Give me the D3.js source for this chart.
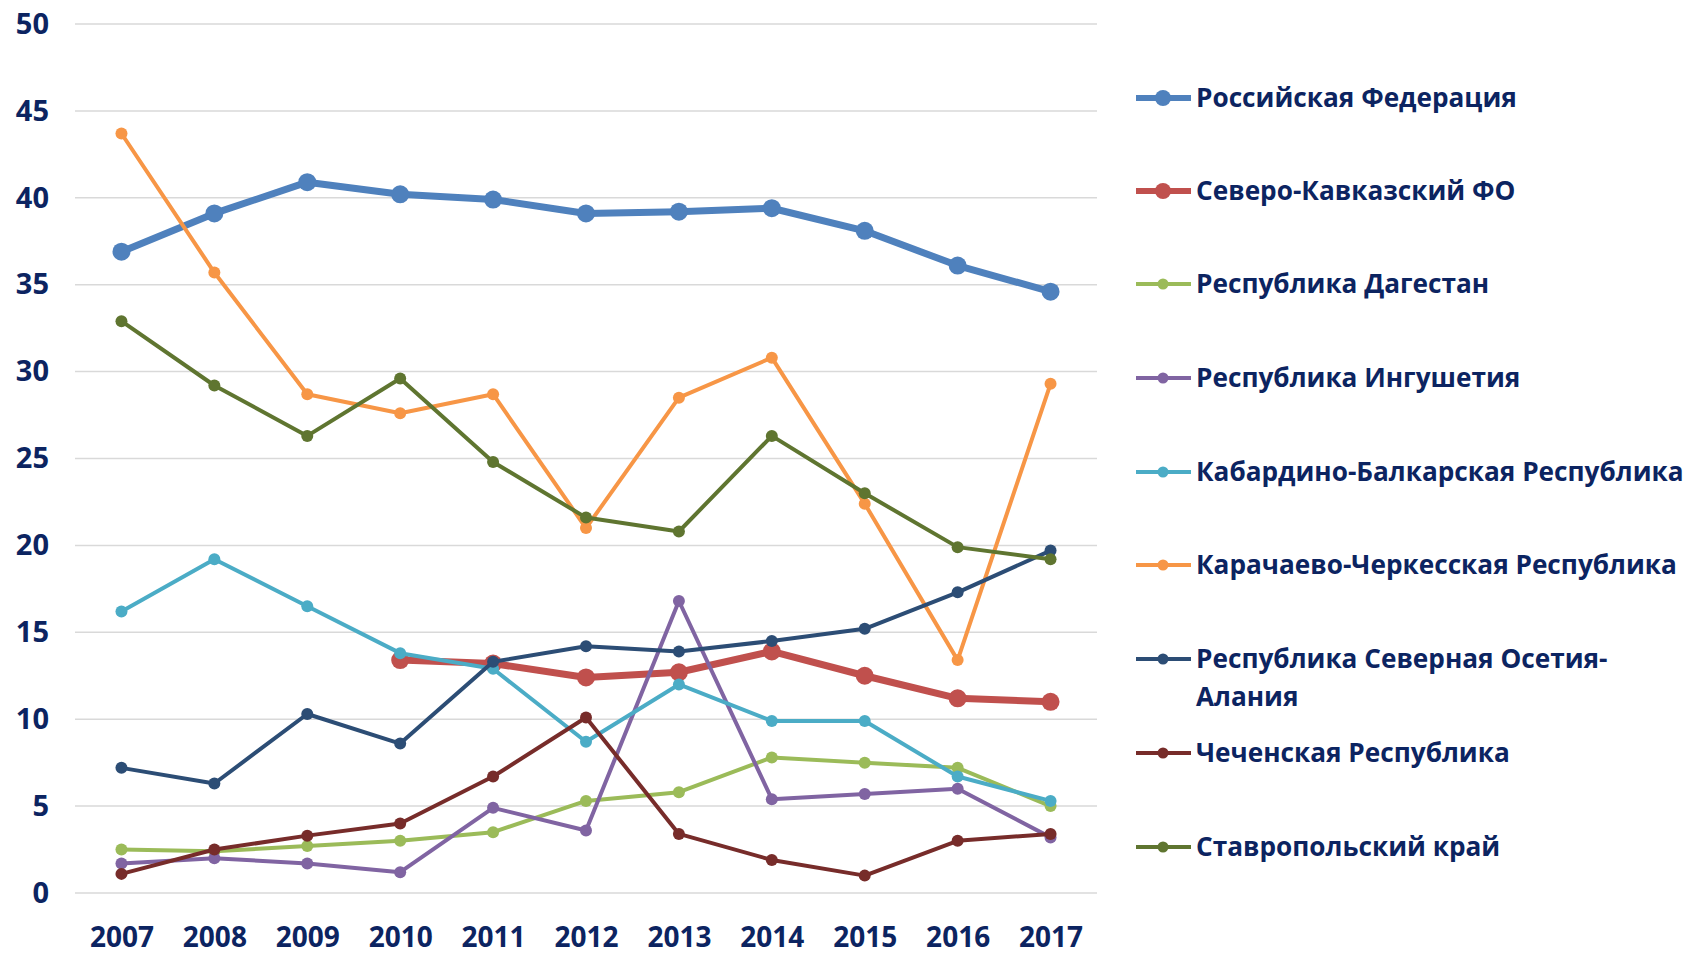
<!DOCTYPE html>
<head>
  <meta charset="utf-8">
  <script src="https://d3js.org/d3.v7.min.js"></script>
  <style>
    body { margin:0; background:#fff; }
    text { font-family: "Open Sans", sans-serif; font-weight: bold; fill: #0c2461; }
  </style>
</head>
<body>
  <div class="chart"></div>
  <script>
    // years on the x axis
    const years = ["2007","2008","2009","2010","2011","2012","2013","2014","2015","2016","2017"];
    const yTicks = [0, 5, 10, 15, 20, 25, 30, 35, 40, 45, 50];

    const names = [
      "Российская Федерация",
      "Северо-Кавказский ФО",
      "Республика Дагестан",
      "Республика Ингушетия",
      "Кабардино-Балкарская Республика",
      "Карачаево-Черкесская Республика",
      "Республика Северная Осетия-Алания",
      "Чеченская Республика",
      "Ставропольский край"
    ];

    // values (null = no data)
    const rf       = [36.9, 39.1, 40.9, 40.2, 39.9, 39.1, 39.2, 39.4, 38.1, 36.1, 34.6];
    const skfo     = [null, null, null, 13.4, 13.2, 12.4, 12.7, 13.9, 12.5, 11.2, 11.0];
    const dagestan = [2.5, 2.4, 2.7, 3.0, 3.5, 5.3, 5.8, 7.8, 7.5, 7.2, 5.0];
    const ingush   = [1.7, 2.0, 1.7, 1.2, 4.9, 3.6, 16.8, 5.4, 5.7, 6.0, 3.2];
    const kbr      = [16.2, 19.2, 16.5, 13.8, 12.9, 8.7, 12.0, 9.9, 9.9, 6.7, 5.3];
    const kchr     = [43.7, 35.7, 28.7, 27.6, 28.7, 21.0, 28.5, 30.8, 22.4, 13.4, 29.3];
    const osetia   = [7.2, 6.3, 10.3, 8.6, 13.3, 14.2, 13.9, 14.5, 15.2, 17.3, 19.7];
    const chechnya = [1.1, 2.5, 3.3, 4.0, 6.7, 10.1, 3.4, 1.9, 1.0, 3.0, 3.4];
    const stavr    = [32.9, 29.2, 26.3, 29.6, 24.8, 21.6, 20.8, 26.3, 23.0, 19.9, 19.2];

    const colors = ["#4f81bd","#c0504d","#9bbb59","#8064a2","#4bacc6","#f79646","#2c4d75","#772c2a","#5f7530"];
    const allValues = [rf, skfo, dagestan, ingush, kbr, kchr, osetia, chechnya, stavr];

    const series = names.map(function(n, i) {
      return { name: n, values: allValues[i], color: colors[i], thick: i < 2 };
    });

    const W = 1689, H = 956;
    const margin = {top: 24, left: 75, right: 592, bottom: 63};

    const svg = d3.select(".chart").append("svg")
      .attr("width", W)
      .attr("height", H);

    const x = d3.scalePoint()
      .domain(years)
      .range([margin.left, W - margin.right])
      .padding(0.5);

    const y = d3.scaleLinear()
      .domain([0, 50])
      .range([H - margin.bottom, margin.top]);

    // gridlines
    svg.append("g")
      .selectAll("line")
      .data(yTicks)
      .enter().append("line")
      .attr("x1", margin.left)
      .attr("x2", W - margin.right)
      .attr("y1", d => y(d))
      .attr("y2", d => y(d))
      .attr("stroke", "#d9d9d9")
      .attr("stroke-width", 1.5);

    // y axis labels
    const yAxis = svg.append("g")
      .attr("transform", "translate(" + (margin.left - 26) + ",0)")
      .call(d3.axisLeft(y).tickValues(yTicks).tickSize(0).tickPadding(0));
    yAxis.select(".domain").remove();
    yAxis.selectAll("text")
      .attr("font-size", 29)
      .style("font-family", "'Open Sans', sans-serif")
      .attr("fill", "#0c2461");

    // x axis labels
    const xAxis = svg.append("g")
      .attr("transform", "translate(0," + (H - margin.bottom + 34) + ")")
      .call(d3.axisBottom(x).tickSize(0).tickPadding(0));
    xAxis.select(".domain").remove();
    xAxis.selectAll("text")
      .attr("font-size", 28)
      .style("font-family", "'Open Sans', sans-serif")
      .attr("fill", "#0c2461");

    const line = d3.line()
      .defined(d => d != null)
      .x((d, i) => x(years[i]))
      .y(d => y(d));

    series.forEach(function(s) {
      const g = svg.append("g");
      g.append("path")
        .attr("d", line(s.values))
        .attr("fill", "none")
        .attr("stroke", s.color)
        .attr("stroke-width", s.thick ? 7 : 4)
        .attr("stroke-linejoin", "round");
      g.selectAll("circle")
        .data(s.values.map((v, i) => ({v: v, i: i})).filter(d => d.v != null))
        .enter().append("circle")
        .attr("cx", d => x(years[d.i]))
        .attr("cy", d => y(d.v))
        .attr("r", s.thick ? 9 : 6)
        .attr("fill", s.color);
    });

    // legend
    const legendY = [98, 191, 284, 378, 472, 565, 659, 753, 847];
    const leg = svg.append("g");
    series.forEach(function(s, i) {
      const g = leg.append("g").attr("transform", "translate(1136," + legendY[i] + ")");
      g.append("line")
        .attr("x1", 0).attr("x2", 55)
        .attr("stroke", s.color)
        .attr("stroke-width", s.thick ? 6 : 4);
      g.append("circle")
        .attr("cx", 27).attr("r", s.thick ? 8 : 5.5)
        .attr("fill", s.color);
      const t = g.append("text")
        .attr("x", 60)
        .attr("dy", "0.35em")
        .attr("font-size", 26.2);
      if (i === 6) {
        t.text("Республика Северная Осетия-");
        g.append("text").attr("x", 60).attr("y", 38).attr("dy", "0.35em")
          .attr("font-size", 26.2).text("Алания");
      } else {
        t.text(s.name);
      }
    });
  </script>
</body>
